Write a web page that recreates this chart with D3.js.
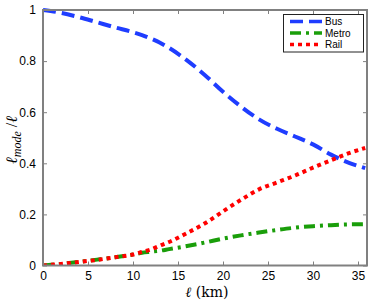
<!DOCTYPE html>
<html><head><meta charset="utf-8">
<script src="https://cdn.jsdelivr.net/npm/d3@7"></script>
<style>
body{margin:0;background:#fff;}
svg{display:block;}
text{font-family:"Liberation Sans",Arial,Helvetica,sans-serif;}
</style></head>
<body><svg id="c" width="374" height="302"></svg>
<script>
const km =    [0, 2, 4, 6, 8, 10, 11, 12, 13, 14, 16, 18, 20, 22, 24, 26, 28, 30, 32, 34, 35.8];
const bus =   [1.0, 0.989, 0.972, 0.952, 0.932, 0.913, 0.902, 0.888, 0.872, 0.852, 0.803, 0.745, 0.680, 0.622, 0.572, 0.535, 0.505, 0.474, 0.434, 0.402, 0.381];
const metro = [0, 0.006, 0.014, 0.023, 0.032, 0.043, 0.050, 0.054, 0.058, 0.064, 0.076, 0.090, 0.105, 0.118, 0.129, 0.139, 0.148, 0.154, 0.158, 0.161, 0.162];
const rail =  [0, 0.006, 0.014, 0.022, 0.032, 0.043, 0.053, 0.063, 0.078, 0.092, 0.127, 0.165, 0.212, 0.257, 0.298, 0.325, 0.352, 0.383, 0.412, 0.440, 0.460];
const xTicks = [0, 5, 10, 15, 20, 25, 30, 35];
const yTicks = [0, 0.2, 0.4, 0.6, 0.8, 1];
const seriesNames = ["Bus", "Metro", "Rail"];

const series = [
  {name: seriesNames[0], values: bus, color: "#1f3dff", dash: "13,6"},
  {name: seriesNames[1], values: metro, color: "#1a9e0a", dash: "11,5,3,5"},
  {name: seriesNames[2], values: rail, color: "#ff0000", dash: "4,4"}
];

const svg = d3.select("#c");
const L = 43, R = 367, T = 10, B = 265.5;
const x = d3.scaleLinear().domain([0, 36]).range([L, R]);
const y = d3.scaleLinear().domain([0, 1]).range([B, T]);

svg.append("defs").append("clipPath").attr("id","clip")
  .append("rect").attr("x", L).attr("y", T-3).attr("width", R-L).attr("height", B-T+3);

const line = d3.line().x((d,i)=>x(km[i])).y(d=>y(d)).curve(d3.curveMonotoneX);
const g = svg.append("g").attr("clip-path","url(#clip)");
series.forEach(s=>{
  g.append("path").datum(s.values).attr("d", line)
    .attr("fill","none").attr("stroke", s.color).attr("stroke-width", 4)
    .attr("stroke-dasharray", s.dash).attr("stroke-linecap", "butt");
});

const axColor = "#808080";
const xb = svg.append("g").attr("transform",`translate(0,${B})`)
  .call(d3.axisBottom(x).tickValues(xTicks).tickSize(-4).tickPadding(6).tickFormat(d3.format("d")));
const xt = svg.append("g").attr("transform",`translate(0,${T})`)
  .call(d3.axisTop(x).tickValues(xTicks).tickSize(-4).tickFormat(""));
const yl = svg.append("g").attr("transform",`translate(${L},0)`)
  .call(d3.axisLeft(y).tickValues(yTicks).tickSize(-4).tickPadding(7).tickFormat(d=> d===0||d===1 ? d3.format("d")(d) : d3.format(".1f")(d)));
const yr = svg.append("g").attr("transform",`translate(${R},0)`)
  .call(d3.axisRight(y).tickValues(yTicks).tickSize(-4).tickFormat(""));
[xb,xt,yl,yr].forEach(a=>{
  a.select(".domain").remove();
  a.selectAll(".tick line").attr("stroke", axColor).attr("stroke-width", 1);
  a.selectAll(".tick text").attr("fill","#000").style("font-size","12px").style("font-family","'Liberation Sans',Arial,sans-serif");
});
svg.append("rect").attr("x",L).attr("y",T).attr("width",R-L).attr("height",B-T)
  .attr("fill","none").attr("stroke",axColor).attr("stroke-width",2);

// axis labels
svg.append("text").attr("x", 207).attr("y", 297).attr("text-anchor","middle")
  .style("font-family","'DejaVu Serif','Liberation Serif',serif").style("font-size","14px")
  .html('<tspan font-style="italic">ℓ</tspan> (km)');
const ylab = svg.append("text").attr("transform","translate(17,140) rotate(-90)").attr("text-anchor","middle")
  .style("font-family","'Liberation Serif','DejaVu Serif',serif").style("font-size","16px");
ylab.append("tspan").attr("font-style","italic").text("ℓ");
ylab.append("tspan").attr("font-style","italic").attr("dy", 4).style("font-size","12px").text("mode");
ylab.append("tspan").attr("dy", -4).text(" /");
ylab.append("tspan").attr("font-style","italic").text("ℓ");

// legend
const lg = svg.append("g");
lg.append("rect").attr("x",283.5).attr("y",14.5).attr("width",80).attr("height",37.5)
  .attr("fill","#fff").attr("stroke","#222").attr("stroke-width",1);
const rowY = [21.5, 33, 44.5];
series.forEach((s,i)=>{
  lg.append("line").attr("x1",290).attr("x2",322).attr("y1",rowY[i]).attr("y2",rowY[i])
    .attr("stroke", s.color).attr("stroke-width",3.5).attr("stroke-dasharray", s.dash);
  lg.append("text").attr("x",325).attr("y",rowY[i]+3.5).style("font-size","10px").attr("fill","#000").text(s.name);
});
</script></body></html>
